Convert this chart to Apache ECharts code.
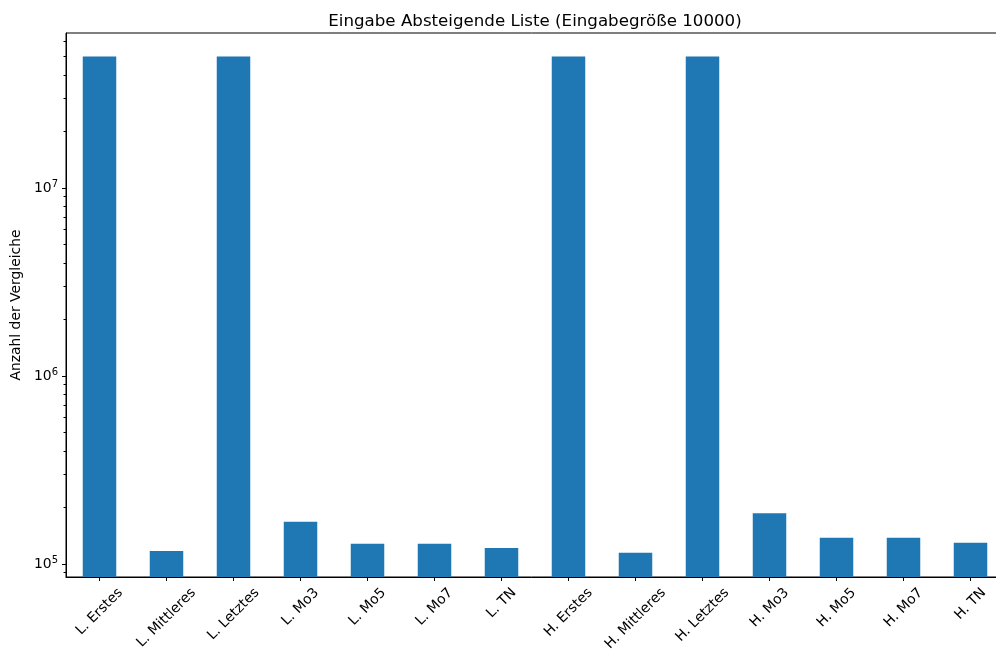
<!DOCTYPE html>
<html>
<head>
<meta charset="utf-8">
<script src="https://cdn.jsdelivr.net/npm/echarts@6/dist/echarts.min.js"></script>
<style>
  html, body { margin: 0; padding: 0; background: #fff; }
  #chart { width: 996px; height: 655px; }
</style>
</head>
<body>
<div id="chart"></div>
<script>
// Number of comparisons per pivot strategy (L. = Lomuto, H. = Hoare), descending input of 10000 elements
const categories = ['L. Erstes', 'L. Mittleres', 'L. Letztes', 'L. Mo3', 'L. Mo5', 'L. Mo7', 'L. TN',
                    'H. Erstes', 'H. Mittleres', 'H. Letztes', 'H. Mo3', 'H. Mo5', 'H. Mo7', 'H. TN'];
const comparisons = [49995000, 117300, 49995000, 168000, 128200, 128200, 121700,
                     49995000, 114800, 49995000, 186000, 138100, 138100, 129800];
const majorTicks = [1e5, 1e6, 1e7];
const minorTicks = [9e4,
                    2e5, 3e5, 4e5, 5e5, 6e5, 7e5, 8e5, 9e5,
                    2e6, 3e6, 4e6, 5e6, 6e6, 7e6, 8e6, 9e6,
                    2e7, 3e7, 4e7, 5e7, 6e7];
const yMin = 85300;
const yMax = 66750000;

const FONT = 'DejaVu Sans';
const TICK_FONT_SIZE = 13.9;

// Rotated category labels: each label's rotated box hangs centred below its tick,
// so the padding depends on the rendered width of the text.
const measureCtx = document.createElement('canvas').getContext('2d');
measureCtx.font = TICK_FONT_SIZE + 'px "' + FONT + '"';
const labelRich = {};
categories.forEach(function (name, i) {
  const w = measureCtx.measureText(name).width;
  const h = 16;
  const drop = 8 + (w + h) * Math.SQRT1_2 / 2;
  const pad = drop * Math.SQRT2;
  labelRich['c' + i] = {
    fontFamily: FONT, fontSize: TICK_FONT_SIZE, color: '#000',
    padding: [pad, pad, 0, 0]
  };
});

const chart = echarts.init(document.getElementById('chart'), null, { renderer: 'canvas' });

chart.setOption({
  animation: false,
  backgroundColor: '#fff',
  textStyle: { fontFamily: FONT },
  title: {
    text: 'Eingabe Absteigende Liste (Eingabegröße 10000)',
    left: 530, top: 8, textAlign: 'center',
    textStyle: { fontFamily: FONT, fontSize: 16.67, fontWeight: 'normal', color: '#000' }
  },
  grid: {
    left: 66, top: 33, width: 938, height: 544,
    outerBoundsMode: 'none',
    containLabel: false,
    show: true, borderColor: '#000', borderWidth: 1, backgroundColor: 'transparent'
  },
  xAxis: {
    type: 'category',
    data: categories,
    axisLine: { show: true, lineStyle: { color: '#000', width: 1 } },
    axisTick: { show: true, alignWithLabel: true, length: 4, lineStyle: { color: '#000' } },
    axisLabel: {
      interval: 0, rotate: 45, margin: 0,
      align: 'center', verticalAlign: 'middle',
      formatter: function (value) {
        const i = categories.indexOf(value);
        return '{c' + i + '|' + value + '}';
      },
      rich: labelRich
    },
    splitLine: { show: false }
  },
  yAxis: [{
    type: 'log',
    logBase: 10,
    min: yMin, max: yMax,
    name: 'Anzahl der Vergleiche',
    nameLocation: 'middle',
    nameRotate: 90,
    nameGap: 42,
    nameTextStyle: { fontFamily: FONT, fontSize: TICK_FONT_SIZE, color: '#000' },
    axisLine: { show: true, lineStyle: { color: '#000', width: 1 } },
    axisTick: { show: true, length: 4, lineStyle: { color: '#000' }, customValues: majorTicks },
    axisLabel: {
      margin: 8,
      customValues: majorTicks,
      formatter: function (value) {
        const e = Math.round(Math.log10(value));
        return '{b|10}{s|' + e + '}';
      },
      rich: {
        b: { fontFamily: FONT, fontSize: TICK_FONT_SIZE, color: '#000' },
        s: { fontFamily: FONT, fontSize: 10, color: '#000', padding: [0, 0, 8, 0] }
      }
    },
    splitLine: { show: false }
  }, {
    type: 'log',
    logBase: 10,
    min: yMin, max: yMax,
    position: 'left',
    axisLine: { show: false },
    axisTick: { show: true, length: 2.5, lineStyle: { color: '#000', width: 1 }, customValues: minorTicks },
    axisLabel: { show: false },
    splitLine: { show: false }
  }],
  series: [{
    type: 'bar',
    data: comparisons,
    yAxisIndex: 0,
    barWidth: '50%',
    itemStyle: { color: '#1f77b4' }
  }]
});
</script>
</body>
</html>
